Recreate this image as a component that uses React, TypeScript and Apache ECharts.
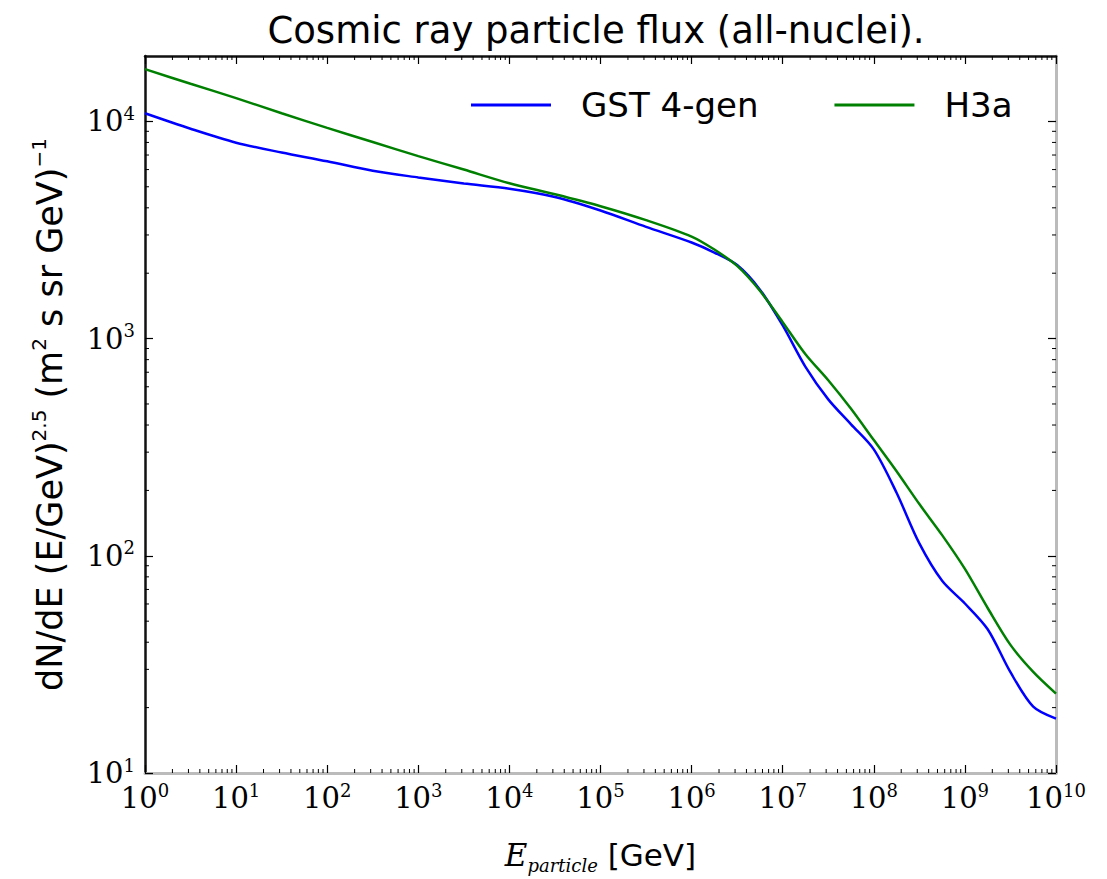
import React, { useEffect, useRef } from 'react';
import * as echarts from 'echarts';

const titleText = 'Cosmic ray particle flux (all-nuclei).';
const seriesNames = ['GST 4-gen', 'H3a'];
const seriesColors = ['#0000ff', '#008000'];

// particle energy [GeV]
const energies = [
  1, 3.162, 10, 31.62, 100, 316.2, 1000, 3162, 1e4, 3.162e4, 1e5, 3.162e5,
  1e6, 1.778e6, 3.162e6, 5.623e6, 1e7, 1.778e7, 3.162e7, 5.623e7,
  1e8, 1.778e8, 3.162e8, 5.623e8, 1e9, 1.778e9, 3.162e9, 5.623e9, 1e10,
];

// dN/dE * E^2.5
const gstFlux = [
  10900, 9250, 7980, 7190, 6550, 5920, 5520, 5180, 4900, 4490, 3890, 3270,
  2770, 2490, 2180, 1680, 1150, 741, 525, 403,
  309, 195, 114, 76.7, 60.3, 45.9, 29.1, 20.2, 17.8,
];
const h3aFlux = [
  17400, 14900, 12800, 10900, 9330, 8040, 6920, 6000, 5190, 4620, 4070, 3510,
  2950, 2570, 2160, 1660, 1190, 847, 643, 475,
  341, 245, 173, 124.5, 87, 57.5, 38.9, 29.2, 23.2,
];

// major tick positions
const xMajorTicks = [1, 10, 100, 1e3, 1e4, 1e5, 1e6, 1e7, 1e8, 1e9, 1e10];
const yMajorTicks = [10, 100, 1e3, 1e4];

const xMin = 1;
const xMax = 1e10;
const yMin = 10;
const yMax = 2e4;

const SANS = '"DejaVu Sans", sans-serif';
const SERIF = '"DejaVu Serif", serif';

function minorTicks(lo: number, hi: number): number[] {
  const out: number[] = [];
  for (let d = lo; d < hi; d *= 10) {
    for (let k = 2; k <= 9; k++) {
      const v = k * d;
      if (v < hi) out.push(v);
    }
  }
  return out;
}

const powLabel = (v: number) => `{b|10}{s|${Math.round(Math.log10(v))}}`;
const labelRich = {
  b: { fontFamily: SERIF, fontSize: 29, lineHeight: 34, color: '#000' },
  s: { fontFamily: SERIF, fontSize: 18, lineHeight: 17, verticalAlign: 'top', color: '#000' },
};

export default function App() {
  const ref = useRef<HTMLDivElement>(null);
  useEffect(() => {
    if (!ref.current) return;
    const chart = echarts.init(ref.current, undefined, { renderer: 'svg' });
    const xMinor = minorTicks(xMin, xMax);
    const yMinor = minorTicks(yMin, yMax);
    const xTick = { inside: true, length: 8, customValues: xMajorTicks, lineStyle: { color: '#000', width: 1.2 } };
    const yTick = { inside: true, length: 8, customValues: yMajorTicks, lineStyle: { color: '#000', width: 1.2 } };

    chart.setOption({
      animation: false,
      backgroundColor: '#fff',
      graphic: [
        {
          type: 'text',
          x: 596,
          y: 30,
          style: {
            text: titleText,
            fontFamily: SANS,
            fontSize: 37,
            fill: '#000',
            align: 'center',
            verticalAlign: 'middle',
          },
        },
      ],
      legend: {
        data: seriesNames,
        left: 466,
        top: 83,
        icon: 'rect',
        itemWidth: 80,
        itemHeight: 3,
        itemGap: 76,
        textStyle: { fontFamily: SANS, fontSize: 34, color: '#000', padding: [0, 0, 0, 25] },
      },
      grid: { left: 145, top: 56, right: 51, bottom: 104 },
      xAxis: [
        {
          type: 'log',
          logBase: 10,
          min: xMin,
          max: xMax,
          position: 'bottom',
          axisLine: { lineStyle: { color: '#bbbbbb', width: 3 } },
          axisTick: xTick,
          splitLine: { show: false },
          axisLabel: { formatter: powLabel, rich: labelRich, margin: 8, customValues: xMajorTicks },
          name: '{e|E}{sub|particle}{n| [GeV]}',
          nameLocation: 'middle',
          nameGap: 63,
          nameTextStyle: {
            rich: {
              e: { fontFamily: SERIF, fontStyle: 'italic', fontSize: 31, lineHeight: 38, color: '#000' },
              sub: { fontFamily: SERIF, fontStyle: 'italic', fontSize: 18, lineHeight: 16, verticalAlign: 'bottom', color: '#000' },
              n: { fontFamily: SANS, fontSize: 31, lineHeight: 38, color: '#000' },
            },
          },
        },
        {
          type: 'log',
          logBase: 10,
          min: xMin,
          max: xMax,
          position: 'top',
          axisLine: { lineStyle: { color: '#111', width: 2.5 } },
          axisTick: xTick,
          splitLine: { show: false },
          axisLabel: { show: false },
        },
      ],
      yAxis: [
        {
          type: 'log',
          logBase: 10,
          min: yMin,
          max: yMax,
          position: 'left',
          axisLine: { lineStyle: { color: '#111', width: 2.5 } },
          axisTick: yTick,
          splitLine: { show: false },
          axisLabel: { formatter: powLabel, rich: labelRich, margin: 10, customValues: yMajorTicks },
          name: 'dN/dE (E/GeV){sup|2.5} (m{sup|2} s sr GeV){sup|−1}',
          nameLocation: 'middle',
          nameGap: 74,
          nameTextStyle: {
            fontFamily: SANS,
            fontSize: 35,
            color: '#000',
            lineHeight: 42,
            rich: {
              sup: { fontFamily: SANS, fontSize: 20, lineHeight: 20, verticalAlign: 'top', color: '#000' },
            },
          },
        },
        {
          type: 'log',
          logBase: 10,
          min: yMin,
          max: yMax,
          position: 'right',
          axisLine: { lineStyle: { color: '#bbbbbb', width: 3 } },
          axisTick: yTick,
          splitLine: { show: false },
          axisLabel: { show: false },
        },
      ],
      series: [
        {
          name: seriesNames[0],
          type: 'line',
          data: energies.map((e, i) => [e, gstFlux[i]]),
          showSymbol: false,
          smooth: 0.3,
          lineStyle: { color: seriesColors[0], width: 2.5 },
          itemStyle: { color: seriesColors[0] },
          z: 5,
        },
        {
          name: seriesNames[1],
          type: 'line',
          data: energies.map((e, i) => [e, h3aFlux[i]]),
          showSymbol: false,
          smooth: 0.3,
          lineStyle: { color: seriesColors[1], width: 2.5 },
          itemStyle: { color: seriesColors[1] },
          z: 6,
        },
        {
          type: 'custom',
          silent: true,
          clip: false,
          data: xMinor.map((v) => [v, 100]),
          renderItem: (params: any, api: any) => {
            const p = api.coord([api.value(0), 100]);
            const cs = params.coordSys;
            const yb = cs.y + cs.height;
            return {
              type: 'group',
              children: [
                { type: 'line', shape: { x1: p[0], y1: yb, x2: p[0], y2: yb - 4 }, style: { stroke: '#000', lineWidth: 1 } },
                { type: 'line', shape: { x1: p[0], y1: cs.y, x2: p[0], y2: cs.y + 4 }, style: { stroke: '#000', lineWidth: 1 } },
              ],
            };
          },
        },
        {
          type: 'custom',
          silent: true,
          clip: false,
          data: yMinor.map((v) => [10, v]),
          renderItem: (params: any, api: any) => {
            const p = api.coord([10, api.value(1)]);
            const cs = params.coordSys;
            const xr = cs.x + cs.width;
            return {
              type: 'group',
              children: [
                { type: 'line', shape: { x1: cs.x, y1: p[1], x2: cs.x + 4, y2: p[1] }, style: { stroke: '#000', lineWidth: 1 } },
                { type: 'line', shape: { x1: xr, y1: p[1], x2: xr - 4, y2: p[1] }, style: { stroke: '#000', lineWidth: 1 } },
              ],
            };
          },
        },
      ],
    });
    return () => chart.dispose();
  }, []);
  return <div ref={ref} style={{ position: 'absolute', left: 0, top: 0, width: 1107, height: 879 }} />;
}
